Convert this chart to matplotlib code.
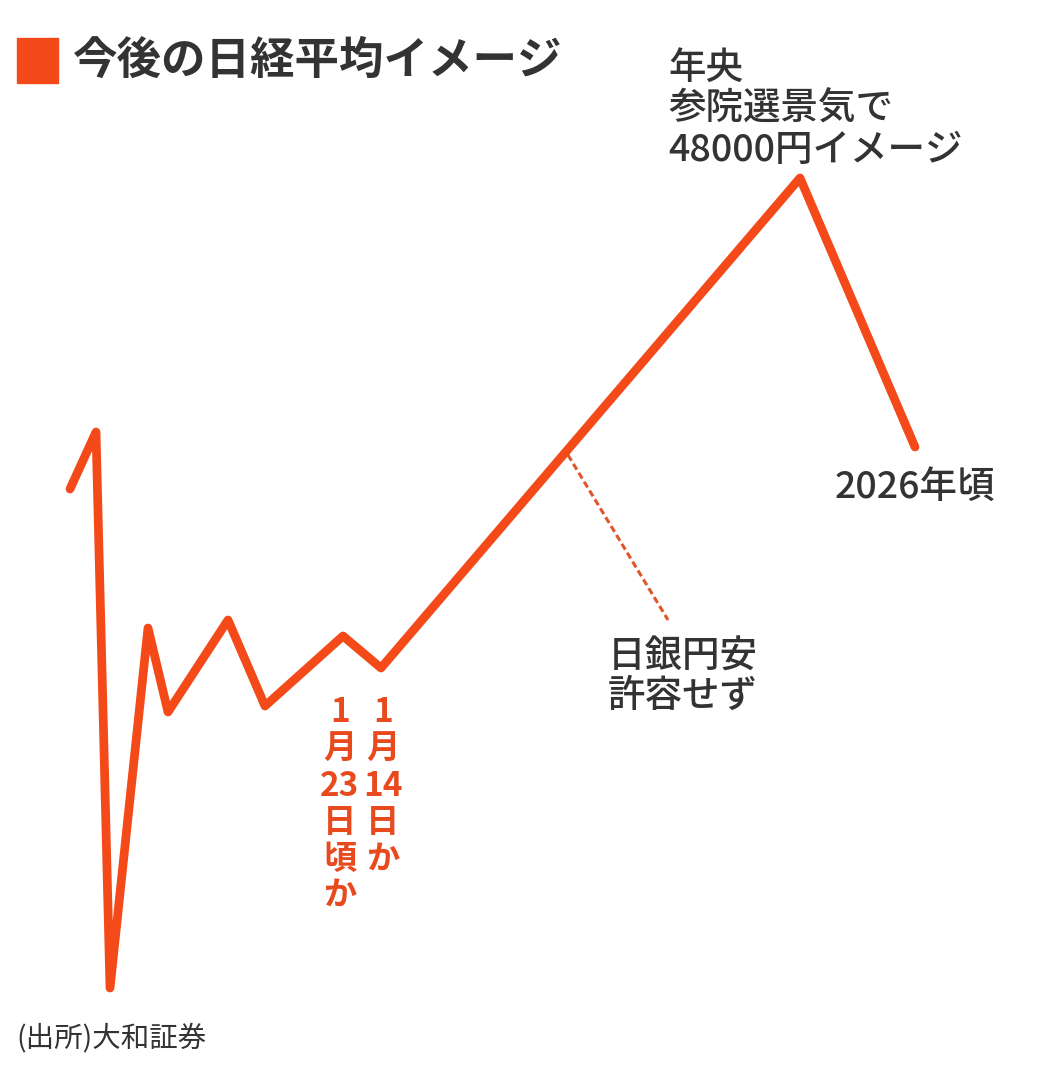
import matplotlib.pyplot as plt
from matplotlib.patches import Rectangle

plt.rcParams['font.family'] = ['Noto Sans CJK JP', 'DejaVu Sans']

# path of the image line (drawing units, y grows downward)
path_x = [70, 96, 110, 148, 168, 228, 265, 343, 381, 800, 915]
path_y = [489, 432, 988, 628, 712, 620, 706, 636, 668, 178, 447]

# dashed leader to the BOJ note
lead_x = [568, 668]
lead_y = [455, 620]

title = '今後の日経平均イメージ'
peak_note = ['年央', '参院選景気で', '48000円イメージ']
end_note = '2026年頃'
boj_note = ['日銀円安', '許容せず']
col_left = ['1', '月', '23', '日', '頃', 'か']
col_right = ['1', '月', '14', '日', 'か']
source = '(出所)大和証券'

red = '#F44A1A'
dark = '#333333'

fig = plt.figure(figsize=(10.4, 10.76), dpi=100)
ax = fig.add_axes([0, 0, 1, 1])
ax.set_xlim(0, 1040)
ax.set_ylim(1076, 0)
ax.axis('off')

ax.plot(path_x, path_y, color=red, lw=6.3, solid_joinstyle='round',
        solid_capstyle='round')
ax.plot(lead_x, lead_y, color='#E0552A', lw=2.2, dashes=(2.2, 1.2))

# title
ax.add_patch(Rectangle((17, 38), 41, 45, color=red))
ax.text(73, 61, title, fontsize=32, fontweight='bold', color=dark,
        ha='left', va='center')

for i, s in enumerate(peak_note):
    ax.text(668, 68 + i * 41, s, fontsize=27, fontweight='medium', color=dark,
            ha='left', va='center')

ax.text(835, 487, end_note, fontsize=27, fontweight='medium', color=dark,
        ha='left', va='center')

for i, s in enumerate(boj_note):
    ax.text(608, 657 + i * 39, s, fontsize=27, fontweight='medium', color=dark,
            ha='left', va='center')

for i, s in enumerate(col_left):
    ax.text(340, 713 + i * 36.5, s, fontsize=24, fontweight='bold', color='#E84A1E',
            ha='center', va='center')
for i, s in enumerate(col_right):
    ax.text(383, 713 + i * 36.5, s, fontsize=24, fontweight='bold', color='#E84A1E',
            ha='center', va='center')

ax.text(16, 1038, source, fontsize=20.5, color=dark, ha='left', va='center')

fig.savefig('out.png', dpi=100)
